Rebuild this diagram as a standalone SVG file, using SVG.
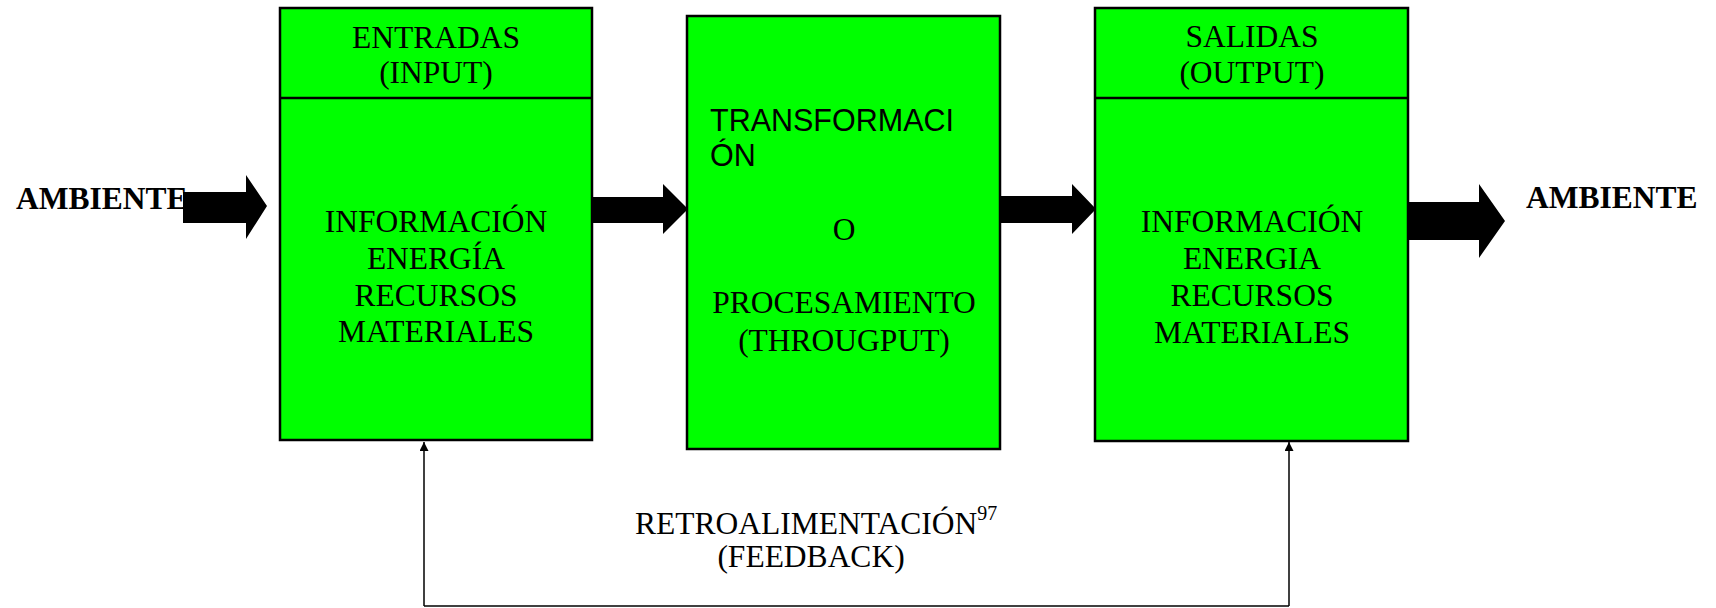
<svg xmlns="http://www.w3.org/2000/svg" width="1716" height="608" viewBox="0 0 1716 608">
<style>
.box{fill:#00ff00;stroke:#000;stroke-width:2.5}
.t{font-family:"Liberation Serif","Times New Roman",serif;font-size:31.5px;fill:#000;text-anchor:middle}
.s{font-family:"Liberation Sans",Arial,sans-serif;font-size:30.5px;fill:#000}
.b{font-family:"Liberation Serif","Times New Roman",serif;font-size:31.5px;font-weight:bold;fill:#000}
.arr{fill:#000}
.fb{fill:none;stroke:#000;stroke-width:1.5}
</style>
<defs>
<marker id="ah" viewBox="0 0 10 10" refX="10" refY="5" markerWidth="15" markerHeight="9" markerUnits="userSpaceOnUse" orient="auto">
<path d="M0,0 L10,5 L0,10 Z" fill="#000"/>
</marker>
</defs>
<g id="ambiente-left"><text class="b" x="16" y="209">AMBIENTE</text></g>
<g id="ambiente-right"><text class="b" x="1526" y="208">AMBIENTE</text></g>
<g id="entradas">
<rect class="box" x="280" y="8" width="312" height="432"/>
<line x1="280" y1="98" x2="592" y2="98" stroke="#000" stroke-width="2.5"/>
<text class="t" x="436" y="48">ENTRADAS</text>
<text class="t" x="436" y="83">(INPUT)</text>
<text class="t" x="436" y="232">INFORMACIÓN</text>
<text class="t" x="436" y="269">ENERGÍA</text>
<text class="t" x="436" y="306">RECURSOS</text>
<text class="t" x="436" y="342">MATERIALES</text>
</g>
<g id="transformacion">
<rect class="box" x="687" y="16" width="313" height="433"/>
<text class="s" x="710" y="131">TRANSFORMACI</text>
<text class="s" x="710" y="166">ÓN</text>
<text class="t" x="844" y="240">O</text>
<text class="t" x="844" y="313">PROCESAMIENTO</text>
<text class="t" x="844" y="351">(THROUGPUT)</text>
</g>
<g id="salidas">
<rect class="box" x="1095" y="8" width="313" height="433"/>
<line x1="1095" y1="98" x2="1408" y2="98" stroke="#000" stroke-width="2.5"/>
<text class="t" x="1252" y="47">SALIDAS</text>
<text class="t" x="1252" y="83">(OUTPUT)</text>
<text class="t" x="1252" y="232">INFORMACIÓN</text>
<text class="t" x="1252" y="269">ENERGIA</text>
<text class="t" x="1252" y="306">RECURSOS</text>
<text class="t" x="1252" y="343">MATERIALES</text>
</g>
<g id="connectors">
<polygon class="arr" points="183,192 246,192 246,175 267,206 246,239 246,223 183,223"/>
<polygon class="arr" points="592,197 663,197 663,184 688,209 663,234 663,223 592,223"/>
<polygon class="arr" points="1000,196 1072,196 1072,184 1096,209 1072,234 1072,223 1000,223"/>
<polygon class="arr" points="1408,202 1479,202 1479,184 1505,221 1479,258 1479,240 1408,240"/>
<line class="fb" x1="424" y1="606" x2="1289" y2="606"/>
<line class="fb" x1="424" y1="606" x2="424" y2="442" marker-end="url(#ah)"/>
<line class="fb" x1="1289" y1="606" x2="1289" y2="442" marker-end="url(#ah)"/>
</g>
<g id="feedback-label">
<text class="b" style="font-weight:normal" x="635" y="534" font-size="31">RETROALIMENTACIÓN<tspan font-size="20" dy="-14">97</tspan></text>
<text class="t" x="811" y="567">(FEEDBACK)</text>
</g>
</svg>
